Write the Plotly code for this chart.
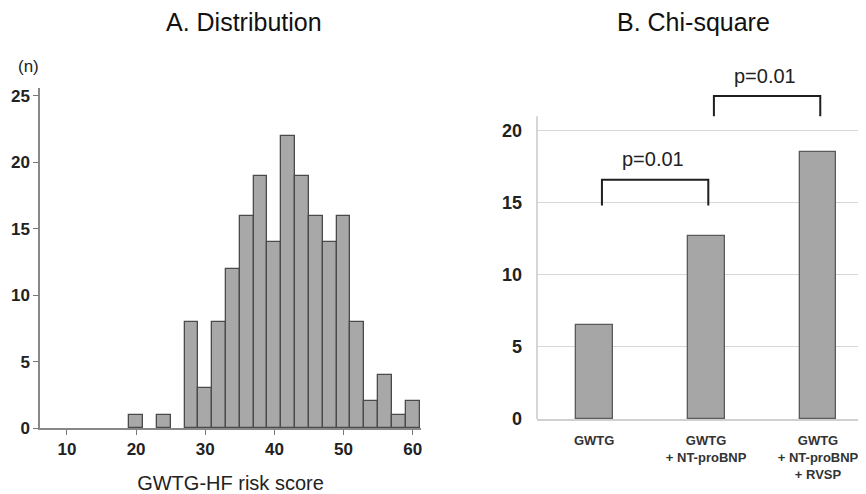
import plotly.graph_objects as go

# ---------------- data ----------------
score_bins = [20, 24, 28, 30, 32, 34, 36, 38, 40, 42, 44, 46, 48, 50, 52, 54, 56, 58, 60]
score_counts = [1, 1, 8, 3, 8, 12, 16, 19, 14, 22, 19, 16, 14, 16, 8, 2, 4, 1, 2]
bin_width = 2
hist_xticks = [10, 20, 30, 40, 50, 60]
hist_yticks = [0, 5, 10, 15, 20, 25]

models = ["GWTG", "GWTG<br>+ NT-proBNP", "GWTG<br>+ NT-proBNP<br>+ RVSP"]
chi_square = [6.5, 12.7, 18.5]
chi_yticks = [0, 5, 10, 15, 20]

# comparisons: (from index, to index, leg bottom, bracket top, label)
comparisons = [(0, 1, 14.8, 16.6, "p=0.01"), (1, 2, 21.0, 22.4, "p=0.01")]

# the page body has an 8px margin; the figure runs slightly past the window's right edge
OFF = 8
W, H = 866, 494 - OFF
FONT = "Liberation Sans, Arial, sans-serif"

def px_x(p):
    return (p - OFF) / W

def px_y(p):
    return 1 - (p - OFF) / H

fig = go.Figure()

# ---------------- A. histogram ----------------
fig.add_trace(go.Bar(
    x=score_bins, y=score_counts, width=bin_width,
    marker=dict(color="#a8a8a8", line=dict(color="#4a4a4a", width=1.3)),
    xaxis="x", yaxis="y", showlegend=False, hoverinfo="x+y"))

# ---------------- B. chi-square ----------------
fig.add_trace(go.Bar(
    x=list(range(len(models))), y=chi_square, width=0.33,
    marker=dict(color="#a6a6a6", line=dict(color="#5a5a5a", width=1.3)),
    xaxis="x2", yaxis="y2", showlegend=False, hoverinfo="y"))

for (i, j, lo, hi, lab) in comparisons:
    xa, xb = i + 0.07, j + 0.02
    fig.add_trace(go.Scatter(
        x=[xa, xa, xb, xb], y=[lo, hi, hi, lo], mode="lines",
        line=dict(color="#1e1e1e", width=2), xaxis="x2", yaxis="y2",
        showlegend=False, hoverinfo="skip", cliponaxis=False))
    fig.add_annotation(x=(xa + xb) / 2 - 0.02, y=hi + 1.4, xref="x2", yref="y2",
                       text=lab, showarrow=False, xanchor="center", yanchor="middle",
                       font=dict(family=FONT, size=20, color="#222"))

fig.update_layout(
    width=W, height=H,
    margin=dict(l=0, r=0, t=0, b=0, autoexpand=False),
    plot_bgcolor="white", paper_bgcolor="white",
    bargap=0,
    xaxis=dict(domain=[px_x(40), px_x(421)], range=[6.1, 61.2], anchor="y",
               automargin=False,
               tickvals=hist_xticks, ticks="outside", ticklen=5, tickcolor="#777",
               showline=True, linecolor="#888", linewidth=1.5, showgrid=False,
               zeroline=False,
               tickfont=dict(family=FONT, size=17, color="#222", weight="bold"),
               title=dict(text="GWTG-HF risk score", standoff=22,
                          font=dict(family=FONT, size=20, color="#222"))),
    yaxis=dict(domain=[px_y(428), px_y(88)], range=[0, 25.6], anchor="x",
               automargin=False,
               tickvals=hist_yticks, ticks="outside", ticklen=5, tickcolor="#777",
               showline=True, linecolor="#888", linewidth=1.5, showgrid=False,
               zeroline=False,
               tickfont=dict(family=FONT, size=17, color="#222", weight="bold")),
    xaxis2=dict(domain=[px_x(537), 1.0], range=[-0.51, 2.50], anchor="y2",
                automargin=False, ticklabelstandoff=9,
                tickvals=list(range(len(models))), ticktext=models,
                ticks="", showline=True, linecolor="#d0d0d0", linewidth=1.5,
                showgrid=False, zeroline=False,
                tickfont=dict(family=FONT, size=13, color="#333", weight="bold")),
    yaxis2=dict(domain=[px_y(419), px_y(60)], range=[0, 24.9], anchor="x2",
                automargin=False,
                tickvals=chi_yticks, ticks="", showline=False,
                showgrid=True, gridcolor="#d6d6d6", gridwidth=1.2, zeroline=False,
                ticklabelstandoff=14,
                tickfont=dict(family=FONT, size=18, color="#222", weight="bold")),
)

# y axis line of panel B (ends just above the top gridline)
fig.add_shape(type="line", xref="paper", yref="y2",
              x0=px_x(537), x1=px_x(537), y0=0, y1=21,
              line=dict(color="#c8c8c8", width=1.5))

# titles and unit label
fig.add_annotation(x=px_x(244), y=px_y(22), xref="paper", yref="paper",
                   text="A. Distribution", showarrow=False,
                   xanchor="center", yanchor="middle",
                   font=dict(family=FONT, size=25, color="#111"))
fig.add_annotation(x=px_x(693), y=px_y(22), xref="paper", yref="paper",
                   text="B. Chi-square", showarrow=False,
                   xanchor="center", yanchor="middle",
                   font=dict(family=FONT, size=25, color="#111"))
fig.add_annotation(x=px_x(28), y=px_y(67), xref="paper", yref="paper",
                   text="(n)", showarrow=False,
                   xanchor="center", yanchor="middle",
                   font=dict(family=FONT, size=17, color="#222"))

fig.write_html("out.html")
